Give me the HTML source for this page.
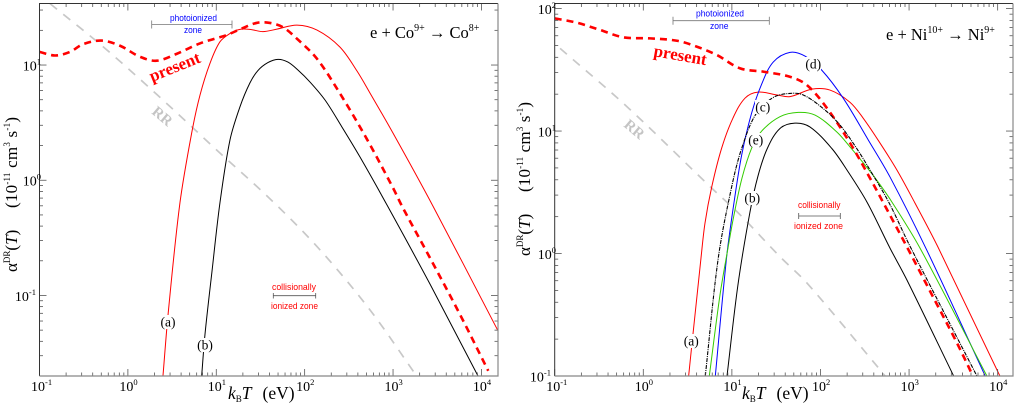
<!DOCTYPE html>
<html lang="en">
<head>
<meta charset="utf-8">
<title>Dielectronic recombination rate coefficients</title>
<style>
html,body{margin:0;padding:0;background:#fff;}
#figure{display:block;width:1014px;height:406px;font-family:"Liberation Serif",serif;}
.sans{font-family:"Liberation Sans",sans-serif;font-size:9.5px;}
.tag{font-size:13.5px;text-anchor:middle;fill:#000;}
</style>
</head>
<body>
<svg id="figure" xmlns="http://www.w3.org/2000/svg" width="1014" height="406" viewBox="0 0 1014 406">
  <defs>
    <clipPath id="clip-co"><rect x="39.5" y="3.5" width="458.5" height="372.5"/></clipPath>
    <clipPath id="clip-ni"><rect x="554.7" y="3.5" width="458.3" height="372.5"/></clipPath>
  </defs>
  <rect x="0" y="0" width="1014" height="406" fill="#fff"/>
  <g id="co-curves" clip-path="url(#clip-co)"></g>
  <g id="ni-curves" clip-path="url(#clip-ni)"></g>
  <g id="co-axes"></g>
  <g id="ni-axes"></g>

  <!-- Left panel annotations -->
  <g>
    <text x="370" y="38" font-size="16.5">e + Co<tspan dy="-7" font-size="10">9+</tspan><tspan dy="7"> → Co</tspan><tspan dy="-7" font-size="10">8+</tspan></text>
    <text transform="translate(152,82) rotate(-22)" font-size="17" font-weight="bold" fill="#f00">present</text>
    <text transform="translate(151,113) rotate(40)" font-size="15" font-weight="bold" fill="#c4c4c4">RR</text>
    <text class="sans" x="170" y="21" textLength="47" lengthAdjust="spacingAndGlyphs" fill="#00f">photoionized</text>
    <text class="sans" x="184" y="33" textLength="18" lengthAdjust="spacingAndGlyphs" fill="#00f">zone</text>
    <path d="M151.7 20.5V28.5M151.7 24.5H232M232 20.5V28.5" stroke="#777" stroke-width="0.8" fill="none"/>
    <text class="sans" x="272" y="290" textLength="44" lengthAdjust="spacingAndGlyphs" fill="#f00">collisionally</text>
    <text class="sans" x="271" y="309" textLength="47" lengthAdjust="spacingAndGlyphs" fill="#f00">ionized zone</text>
    <path d="M273.3 293V298.5M273.3 295.7H315.7M315.7 293V298.5" stroke="#555" stroke-width="0.8" fill="none"/>
    <g><rect x="160" y="315" width="16" height="14" fill="#fff"/><text class="tag" x="168" y="326.5">(a)</text></g>
    <g><rect x="197" y="338" width="16" height="14" fill="#fff"/><text class="tag" x="205" y="349.5">(b)</text></g>
    <text x="228" y="399" font-size="17.5"><tspan font-style="italic">k</tspan><tspan dy="3" font-size="9">B</tspan><tspan dy="-3" font-style="italic">T</tspan><tspan dx="11">(eV)</tspan></text>
    <text transform="translate(17,272) rotate(-90)" font-size="17">α<tspan dy="-7" font-size="9">DR</tspan><tspan dy="7">(</tspan><tspan font-style="italic">T</tspan>)</text>
    <text transform="translate(17,208) rotate(-90)" font-size="17" textLength="91">(10<tspan dy="-7" font-size="9">-11</tspan><tspan dy="7"> cm</tspan><tspan dy="-7" font-size="9">3</tspan><tspan dy="7"> s</tspan><tspan dy="-7" font-size="9">-1</tspan><tspan dy="7">)</tspan></text>
  </g>

  <!-- Right panel annotations -->
  <g>
    <text x="886" y="40" font-size="16.5">e + Ni<tspan dy="-7" font-size="10">10+</tspan><tspan dy="7"> → Ni</tspan><tspan dy="-7" font-size="10">9+</tspan></text>
    <text transform="translate(653,56) rotate(10)" font-size="17" font-weight="bold" fill="#f00">present</text>
    <text transform="translate(623,126) rotate(40)" font-size="15" font-weight="bold" fill="#c4c4c4">RR</text>
    <text class="sans" x="696" y="16.5" textLength="48" lengthAdjust="spacingAndGlyphs" fill="#00f">photoionized</text>
    <text class="sans" x="710" y="29" textLength="18.5" lengthAdjust="spacingAndGlyphs" fill="#00f">zone</text>
    <path d="M673 16.7V24.7M673 20.7H769.3M769.3 16.7V24.7" stroke="#777" stroke-width="0.8" fill="none"/>
    <text class="sans" x="798" y="208" textLength="42.5" lengthAdjust="spacingAndGlyphs" fill="#f00">collisionally</text>
    <text class="sans" x="794" y="229" textLength="49" lengthAdjust="spacingAndGlyphs" fill="#f00">ionized zone</text>
    <path d="M798.7 213V219M798.7 216H840.3M840.3 213V219" stroke="#555" stroke-width="0.8" fill="none"/>
    <g><rect x="683" y="334" width="16" height="14" fill="#fff"/><text class="tag" x="691.3" y="345.5">(a)</text></g>
    <g><rect x="744" y="191" width="16" height="14" fill="#fff"/><text class="tag" x="752.3" y="202.5">(b)</text></g>
    <g><rect x="755" y="100" width="16" height="14" fill="#fff"/><text class="tag" x="762.7" y="111.5">(c)</text></g>
    <g><rect x="805" y="57" width="16" height="14" fill="#fff"/><text class="tag" x="813.3" y="68.5">(d)</text></g>
    <g><rect x="748" y="133" width="16" height="14" fill="#fff"/><text class="tag" x="755.7" y="144.5">(e)</text></g>
    <text x="742" y="399" font-size="17.5"><tspan font-style="italic">k</tspan><tspan dy="3" font-size="9">B</tspan><tspan dy="-3" font-style="italic">T</tspan><tspan dx="11">(eV)</tspan></text>
    <text transform="translate(530,256) rotate(-90)" font-size="17">α<tspan dy="-7" font-size="9">DR</tspan><tspan dy="7">(</tspan><tspan font-style="italic">T</tspan>)</text>
    <text transform="translate(530,192) rotate(-90)" font-size="17" textLength="90">(10<tspan dy="-7" font-size="9">-11</tspan><tspan dy="7"> cm</tspan><tspan dy="-7" font-size="9">3</tspan><tspan dy="7"> s</tspan><tspan dy="-7" font-size="9">-1</tspan><tspan dy="7">)</tspan></text>
  </g>
</svg>

<script>
// ---- Tick data ----
const coXDecades = [-1, 0, 1, 2, 3, 4];
const coYDecades = [-1, 0, 1];
const niXDecades = [-1, 0, 1, 2, 3, 4];
const niYDecades = [-1, 0, 1, 2];
const coXDomain = [0.1, 15400];
const coYDomain = [0.02, 34.2];
const niXDomain = [0.1, 14900];
const niYDomain = [0.1, 110];

// ---- e + Co9+ series (kT in eV, rate in 1e-11 cm3/s) ----
const coATemp = [2.495, 2.86, 3.88, 5.27, 6.55, 8.51, 11.0, 14.3, 18.5, 24.0, 33.7, 48.6, 81.9, 138, 251, 391, 548, 998, 2825, 15350];
const coARate = [0.0201, 0.0706, 0.635, 2.57, 5.49, 10.4, 15.9, 18.8, 20.4, 20.4, 19.5, 20.5, 22.2, 20.1, 14.3, 8.87, 5.72, 2.57, 0.598, 0.0496];
const coBTemp = [6.84, 7.45, 8.93, 11.0, 14.3, 18.5, 24.0, 29.6, 38.4, 49.9, 64.7, 83.9, 115, 170, 264, 423, 853, 2612, 9120];
const coBRate = [0.0201, 0.0458, 0.160, 0.635, 2.24, 4.32, 6.98, 8.96, 10.5, 11.2, 10.6, 9.05, 7.12, 4.97, 2.90, 1.59, 0.611, 0.126, 0.0201];
const coPresentTemp = [0.1, 0.15, 0.221, 0.313, 0.506, 0.815, 1.37, 2.12, 3.56, 6.53, 13.1, 18.5, 28.6, 40.5, 57.3, 81.2, 137, 251, 502, 1000, 1294, 2617, 5720, 11940];
const coPresentRate = [13.0, 12.1, 13.0, 15.2, 16.3, 14.7, 11.8, 10.9, 12.5, 15.4, 18.2, 20.4, 23.2, 23.2, 21.2, 17.0, 11.4, 5.66, 2.30, 0.857, 0.575, 0.212, 0.0684, 0.0222];
const coRRTemp = [0.1315, 0.551, 2.49, 10.1, 43.8, 149, 548, 1850];
const coRRRate = [34.1, 13.96, 4.97, 1.83, 0.652, 0.249, 0.075, 0.02];

// ---- e + Ni10+ series ----
const niATemp = [3.25, 3.55, 4.48, 4.97, 5.92, 7.67, 10.3, 14.1, 19.7, 32.3, 45.3, 80.2, 128, 215, 302, 470, 729, 1167, 2118, 10600];
const niARate = [0.1, 0.186, 0.919, 1.77, 3.49, 7.26, 12.8, 18.6, 20.8, 19.7, 19.1, 22.0, 21.6, 17.2, 12.8, 7.98, 4.81, 2.58, 1.13, 0.1];
const niBTemp = [8.81, 11.7, 16.0, 19.7, 25.1, 34.9, 51.5, 76.0, 134, 199, 335, 608, 946, 3185];
const niBRate = [0.1, 0.553, 2.18, 4.29, 7.2, 10.5, 11.6, 10.8, 7.22, 4.81, 2.63, 1.11, 0.608, 0.1];
const niCTemp = [5.01, 7.02, 9.95, 12.9, 18.7, 29.3, 45.3, 64.0, 107, 166, 256, 362, 589, 1023, 5834];
const niCRate = [0.1, 0.919, 3.51, 7.22, 13.8, 18.8, 20.3, 19.7, 15.3, 11.2, 7.22, 4.81, 2.63, 1.15, 0.1];
const niDTemp = [6.50, 8.73, 10.4, 12.9, 16.7, 21.7, 29.3, 45.3, 66.8, 103, 181, 347, 610, 1581, 7244];
const niDRate = [0.1, 0.942, 2.41, 6.37, 14.0, 24.2, 36.6, 43.9, 40.9, 31.5, 18.5, 8.44, 4.21, 1.07, 0.1];
const niETemp = [5.56, 7.34, 9.10, 10.4, 13.0, 16.9, 21.7, 34.9, 56.1, 86.7, 152, 215, 391, 641, 1327, 7568];
const niERate = [0.1, 0.458, 1.14, 1.95, 4.13, 7.40, 10.0, 13.1, 14.2, 13.5, 9.87, 7.44, 4.37, 2.63, 1.11, 0.1];
const niPresentTemp = [0.1, 0.179, 0.327, 0.601, 1.2, 2.4, 4.04, 6.79, 12.4, 22.9, 45.6, 70.4, 119, 217, 362, 521, 973, 1722, 3475, 5260];
const niPresentRate = [83.2, 76.6, 66.8, 58.2, 57.1, 54.6, 48.8, 41.7, 32.5, 30.5, 27.7, 23.7, 15.3, 7.93, 4.13, 2.54, 1.09, 0.494, 0.186, 0.1];
const niRRTemp = [0.115, 0.655, 5.7, 12.4, 34.9, 70.4, 454, 535];
const niRRRate = [47.3, 15.8, 3.51, 2.07, 0.942, 0.574, 0.116, 0.1];

const SVGNS = 'http://www.w3.org/2000/svg';
function mk(tag) { return document.createElementNS(SVGNS, tag); }

function logScale(domain, r0, r1) {
  const a = Math.log10(domain[0]), b = Math.log10(domain[1]);
  return function (v) { return r0 + (Math.log10(v) - a) / (b - a) * (r1 - r0); };
}

function smoothPath(xs, ys, sx, sy) {
  const p = xs.map(function (x, i) { return [sx(x), sy(ys[i])]; });
  let d = 'M' + p[0][0].toFixed(2) + ' ' + p[0][1].toFixed(2);
  for (let i = 0; i < p.length - 1; i++) {
    const p0 = p[Math.max(i - 1, 0)], p1 = p[i], p2 = p[i + 1], p3 = p[Math.min(i + 2, p.length - 1)];
    const dPrev = Math.hypot(p2[0] - p0[0], p2[1] - p0[1]) || 1;
    const dNext = Math.hypot(p3[0] - p1[0], p3[1] - p1[1]) || 1;
    const len = Math.hypot(p2[0] - p1[0], p2[1] - p1[1]);
    const c1x = p1[0] + (p2[0] - p0[0]) / dPrev * len / 3, c1y = p1[1] + (p2[1] - p0[1]) / dPrev * len / 3;
    const c2x = p2[0] - (p3[0] - p1[0]) / dNext * len / 3, c2y = p2[1] - (p3[1] - p1[1]) / dNext * len / 3;
    d += 'C' + c1x.toFixed(2) + ' ' + c1y.toFixed(2) + ' ' + c2x.toFixed(2) + ' ' + c2y.toFixed(2) + ' ' + p2[0].toFixed(2) + ' ' + p2[1].toFixed(2);
  }
  return d;
}

function drawCurve(parent, name, xs, ys, sx, sy, color, width, dash) {
  const path = mk('path');
  
  
  path.setAttribute('d', smoothPath(xs, ys, sx, sy));
  path.setAttribute('fill', 'none');
  path.setAttribute('stroke', color);
  path.setAttribute('stroke-width', width);
  if (dash) path.setAttribute('stroke-dasharray', dash);
  parent.appendChild(path);
}

function tickLine(parent, x1, y1, x2, y2, color) {
  const t = mk('line');
  
  
  t.setAttribute('x1', x1); t.setAttribute('y1', y1);
  t.setAttribute('x2', x2); t.setAttribute('y2', y2);
  t.setAttribute('stroke', color);
  t.setAttribute('stroke-width', '0.8');
  parent.appendChild(t);
}

function powerLabel(parent, exp, x, y, anchor) {
  const t = mk('text');
  
  
  t.setAttribute('x', x);
  t.setAttribute('y', y);
  t.setAttribute('font-size', '14');
  t.setAttribute('text-anchor', anchor);
  t.appendChild(document.createTextNode('10'));
  const s = mk('tspan');
  s.setAttribute('dy', '-6');
  s.setAttribute('font-size', '8.5');
  s.textContent = String(exp);
  t.appendChild(s);
  parent.appendChild(t);
}

function drawAxes(parent, sx, sy, xDom, yDom, xDec, yDec, L, R, T, B, yLabelX) {
  const major = 7, minor = 3.5, tickCol = '#555';
  const xLo = Math.floor(Math.log10(xDom[0])), xHi = Math.ceil(Math.log10(xDom[1]));
  for (let e = xLo; e <= xHi; e++) {
    for (let m = 1; m < 10; m++) {
      const v = m * Math.pow(10, e);
      if (v < xDom[0] || v > xDom[1]) continue;
      const px = sx(v), len = m === 1 ? major : minor;
      tickLine(parent, px, B, px, B - len, tickCol);
      tickLine(parent, px, T, px, T + len, tickCol);
    }
  }
  const yLo = Math.floor(Math.log10(yDom[0])), yHi = Math.ceil(Math.log10(yDom[1]));
  for (let e = yLo; e <= yHi; e++) {
    for (let m = 1; m < 10; m++) {
      const v = m * Math.pow(10, e);
      if (v < yDom[0] || v > yDom[1]) continue;
      const py = sy(v), len = m === 1 ? major : minor;
      tickLine(parent, L, py, L + len, py, tickCol);
      tickLine(parent, R, py, R - len, py, tickCol);
    }
  }
  const frame = mk('path');
  
  
  frame.setAttribute('d', 'M' + L + ' ' + B + 'V' + T + 'H' + R);
  frame.setAttribute('fill', 'none');
  frame.setAttribute('stroke', '#333');
  frame.setAttribute('stroke-width', '1');
  parent.appendChild(frame);
  const frame2 = mk('path');
  
  
  frame2.setAttribute('d', 'M' + L + ' ' + B + 'H' + R + 'V' + T);
  frame2.setAttribute('fill', 'none');
  frame2.setAttribute('stroke', '#888');
  frame2.setAttribute('stroke-width', '1.2');
  parent.appendChild(frame2);
  xDec.forEach(function (e) {
    powerLabel(parent, e, sx(Math.pow(10, e)) - 8.5, 391, 'start');
  });
  yDec.forEach(function (e) {
    const wide = e < 0 ? 5 : 0;
    powerLabel(parent, e, yLabelX - wide, sy(Math.pow(10, e)) + 5.5, 'end');
  });
}

// ---- Left panel ----
const coX = logScale(coXDomain, 39.5, 498);
const coY = logScale(coYDomain, 376, 3.5);
const coG = document.getElementById('co-curves');
drawCurve(coG, 'co-rr-curve', coRRTemp, coRRRate, coX, coY, '#c8c8c8', 1.7, '9 8');
drawCurve(coG, 'co-curve-a', coATemp, coARate, coX, coY, '#f00', 1, null);
drawCurve(coG, 'co-curve-b', coBTemp, coBRate, coX, coY, '#000', 1, null);
drawCurve(coG, 'co-present-curve', coPresentTemp, coPresentRate, coX, coY, '#f00', 2.6, '7 5');
drawAxes(document.getElementById('co-axes'), coX, coY, coXDomain, coYDomain, coXDecades, coYDecades, 39.5, 498, 3.5, 376, 41);

// ---- Right panel ----
const niX = logScale(niXDomain, 554.7, 1013);
const niY = logScale(niYDomain, 376, 3.5);
const niG = document.getElementById('ni-curves');
drawCurve(niG, 'ni-rr-curve', niRRTemp, niRRRate, niX, niY, '#c8c8c8', 1.7, '9 8');
drawCurve(niG, 'ni-curve-a', niATemp, niARate, niX, niY, '#f00', 1, null);
drawCurve(niG, 'ni-curve-b', niBTemp, niBRate, niX, niY, '#000', 1, null);
drawCurve(niG, 'ni-curve-d', niDTemp, niDRate, niX, niY, '#00f', 1, null);
drawCurve(niG, 'ni-curve-e', niETemp, niERate, niX, niY, '#3c0', 1, null);
drawCurve(niG, 'ni-present-curve', niPresentTemp, niPresentRate, niX, niY, '#f00', 2.6, '7 5');
drawCurve(niG, 'ni-curve-c', niCTemp, niCRate, niX, niY, '#000', 1.1, '4 1 1 1');
drawAxes(document.getElementById('ni-axes'), niX, niY, niXDomain, niYDomain, niXDecades, niYDecades, 554.7, 1013, 3.5, 376, 556);
</script>
</body>
</html>
